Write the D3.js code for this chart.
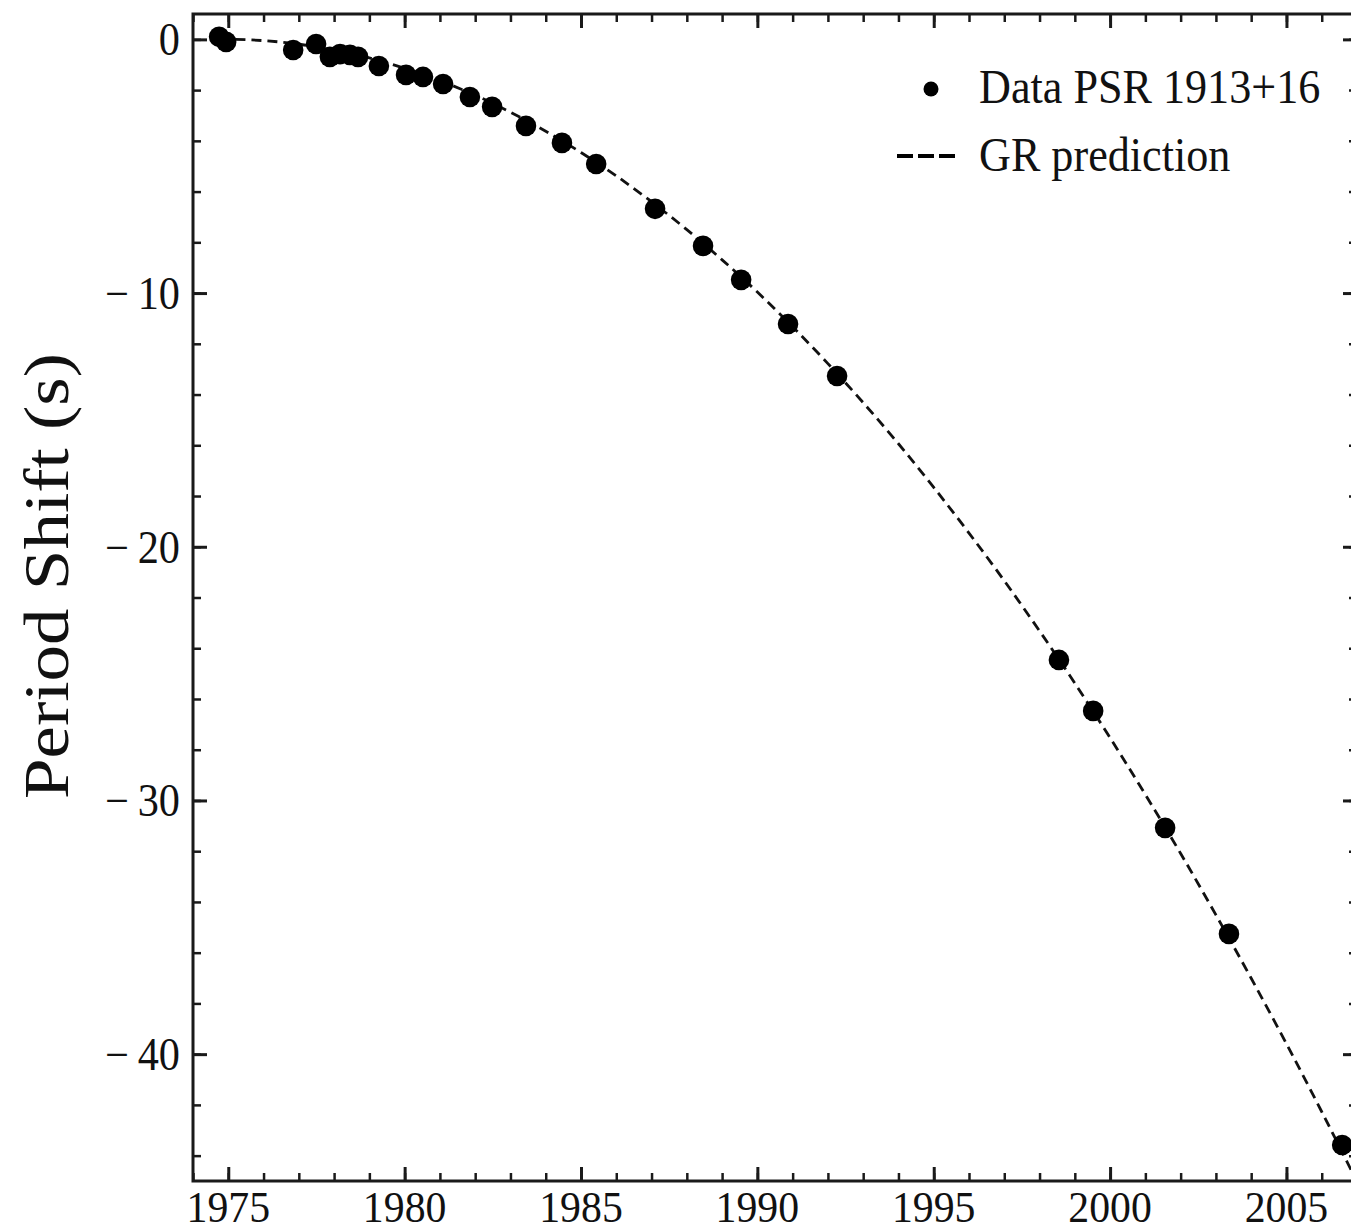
<!DOCTYPE html>
<html>
<head>
<meta charset="utf-8">
<script src="https://cdn.jsdelivr.net/npm/d3@7"></script>
<style>
body { margin: 0; background: white; }
text { font-family: "Liberation Serif", "Times New Roman", serif; fill: #111; }
</style>
</head>
<body>
<div id="chart-area"></div>
<script>
// measured points, PSR 1913+16
const dataYears = [1974.74, 1974.94, 1976.84, 1977.49, 1977.88, 1978.17, 1978.45, 1978.68, 1979.27,
    1980.04, 1980.52, 1981.09, 1981.85, 1982.48, 1983.44, 1984.46, 1985.43, 1987.10, 1988.46,
    1989.54, 1990.87, 1992.26, 1998.55, 1999.52, 2001.56, 2003.37, 2006.58]
const dataShift = [0.1, -0.1, -0.42, -0.18, -0.69, -0.58, -0.61, -0.69, -1.05,
    -1.4, -1.48, -1.76, -2.27, -2.66, -3.41, -4.08, -4.91, -6.68, -8.14,
    -9.48, -11.22, -13.27, -24.46, -26.47, -31.08, -35.26, -43.58]

// GR prediction
const grYears = [1974.75, 1975, 1976, 1977, 1978, 1979, 1980, 1981, 1982, 1983, 1984, 1985, 1986,
    1987, 1988, 1989, 1990, 1991, 1992, 1993, 1994, 1995, 1996, 1997, 1998, 1999, 2000,
    2001, 2002, 2003, 2004, 2005, 2006, 2007]
const grShift = [0, 0, -0.05, -0.19, -0.42, -0.73, -1.14, -1.63, -2.2, -2.87, -3.62, -4.46, -5.38,
    -6.4, -7.5, -8.69, -9.96, -11.33, -12.78, -14.32, -15.94, -17.66, -19.46, -21.34, -23.32, -25.38, -27.53,
    -29.77, -32.09, -34.51, -37.01, -39.59, -42.27, -45.03]

const xMajorTicks = [1975, 1980, 1985, 1990, 1995, 2000, 2005]
const yMajorTicks = [0, -10, -20, -30, -40]
const xMinorTicks = d3.range(1974, 2008, 1)
const yMinorTicks = d3.range(0, -46, -2)

const legendLabels = ["Data PSR 1913+16", "GR prediction"]

const margin = {left: 193, right: 0, top: 14, bottom: 51}
const width = 1164, height = 1167

const svg = d3.select("#chart-area").append("svg")
    .attr("width", 1351)
    .attr("height", 1232)
    .attr("style", "background: white; display: block")

const g = svg.append("g")
    .attr("transform", `translate(${margin.left}, ${margin.top})`)

const x = d3.scaleLinear()
    .domain([1974, 2007])
    .range([0, width])

const y = d3.scaleLinear()
    .domain([-45, 1])
    .range([height, 0])

g.append("clipPath").attr("id", "plot-clip")
    .append("rect")
    .attr("width", width)
    .attr("height", height)

// ticks on all four sides, pointing inward
const addAxis = (axisFn, scale, values, size, transform, sw) => {
    const ax = g.append("g")
        .attr("transform", transform)
        .call(axisFn(scale).tickValues(values).tickSize(-size).tickFormat(""))
    ax.select(".domain").remove()
    ax.selectAll("line").attr("stroke", "#1a1a1a").attr("stroke-width", sw)
    ax.selectAll("text").remove()
}

addAxis(d3.axisBottom, x, xMinorTicks, 8, `translate(0, ${height})`, 2.5)
addAxis(d3.axisBottom, x, xMajorTicks, 14, `translate(0, ${height})`, 3)
addAxis(d3.axisTop, x, xMinorTicks, 8, "translate(0, 0)", 2.5)
addAxis(d3.axisTop, x, xMajorTicks, 14, "translate(0, 0)", 3)
addAxis(d3.axisLeft, y, yMinorTicks, 8, "translate(0, 0)", 2.5)
addAxis(d3.axisLeft, y, yMajorTicks, 14, "translate(0, 0)", 3)
addAxis(d3.axisRight, y, yMinorTicks, 8, `translate(${width}, 0)`, 2.5)
addAxis(d3.axisRight, y, yMajorTicks, 14, `translate(${width}, 0)`, 3)

// frame
g.append("rect")
    .attr("width", width)
    .attr("height", height)
    .attr("fill", "none")
    .attr("stroke", "#1a1a1a")
    .attr("stroke-width", 3)

// tick labels (slightly condensed like the source)
g.selectAll(".x-label").data(xMajorTicks).join("text")
    .attr("class", "x-label")
    .attr("transform", d => `translate(${x(d)}, ${height + 41}) scale(0.95, 1)`)
    .attr("text-anchor", "middle")
    .attr("font-size", "44px")
    .text(d => d)

g.selectAll(".y-label").data(yMajorTicks).join("text")
    .attr("class", "y-label")
    .attr("transform", d => `translate(-13, ${y(d) + 16}) scale(0.92, 1)`)
    .attr("text-anchor", "end")
    .attr("font-size", "46px")
    .text(d => d < 0 ? "\u2212\u2009" + Math.abs(d) : d)

// Y Label
svg.append("text")
    .attr("transform", "translate(68, 576) scale(0.88, 1) rotate(-90)")
    .attr("text-anchor", "middle")
    .attr("font-size", "73px")
    .text("Period Shift (s)")

// GR curve
const line = d3.line()
    .x((d, i) => x(grYears[i]))
    .y(d => y(d))
    .curve(d3.curveMonotoneX)

g.append("path")
    .attr("clip-path", "url(#plot-clip)")
    .attr("d", line(grShift))
    .attr("fill", "none")
    .attr("stroke", "#111")
    .attr("stroke-width", 2.8)
    .attr("stroke-dasharray", "10,6")

g.selectAll("circle.pt").data(dataYears).join("circle")
    .attr("class", "pt")
    .attr("cx", d => x(d))
    .attr("cy", (d, i) => y(dataShift[i]))
    .attr("r", 10.3)
    .attr("fill", "#000")

// legend
const legend = svg.append("g")
legend.append("circle")
    .attr("cx", 931)
    .attr("cy", 89)
    .attr("r", 7.5)
    .attr("fill", "#000")
legend.append("line")
    .attr("x1", 897).attr("x2", 958)
    .attr("y1", 156).attr("y2", 156)
    .attr("stroke", "#000")
    .attr("stroke-width", 4)
    .attr("stroke-dasharray", "16,5")
legend.selectAll("text").data(legendLabels).join("text")
    .attr("transform", (d, i) => `translate(979, ${103 + i * 68}) scale(0.92, 1)`)
    .attr("font-size", "48px")
    .text(d => d)
</script>
</body>
</html>
